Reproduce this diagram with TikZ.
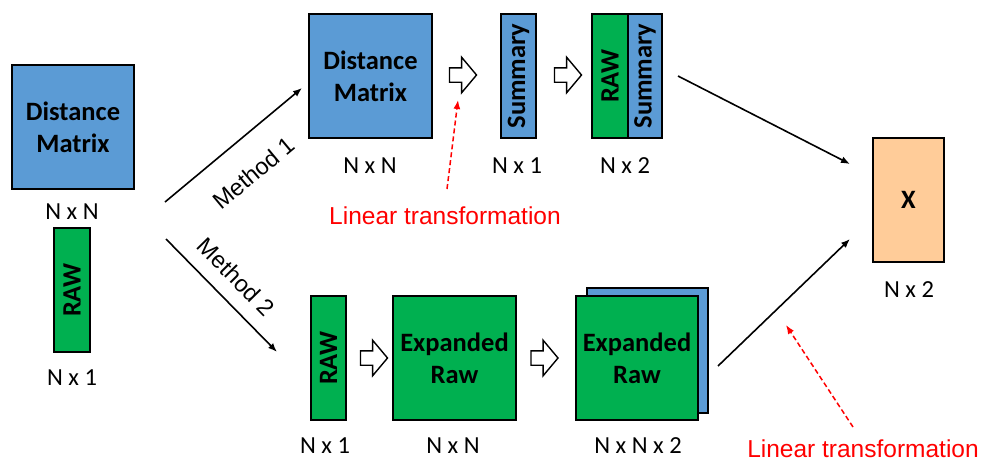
\documentclass[tikz,border=0pt]{standalone}
\usepackage{fontspec}
\setmainfont{Carlito}
\newfontfamily\arialfont{Liberation Sans}
\usetikzlibrary{shapes.arrows,arrows.meta}
\definecolor{mblue}{HTML}{5B9BD5}
\definecolor{mgreen}{HTML}{00B050}
\definecolor{mpeach}{HTML}{FFCC99}
\definecolor{mred}{HTML}{FF0000}
\tikzset{
  box/.style={draw=black, line width=1.4pt, inner sep=0pt, align=center,
    font=\fontsize{26.5}{32}\selectfont\bfseries},
  bluebox/.style={box, fill=mblue},
  greenbox/.style={box, fill=mgreen},
  dimlabel/.style={font=\fontsize{24.5}{28}\selectfont},
  methodlabel/.style={font=\arialfont\fontsize{23.5}{27}\selectfont},
  redlabel/.style={font=\arialfont\fontsize{24.5}{28}\selectfont, text=mred},
  flow/.style={line width=1.6pt, -{Latex[length=9pt,width=7pt]}},
  redflow/.style={line width=1.5pt, draw=mred, dash pattern=on 5pt off 3pt,
    -{Latex[length=9pt,width=7pt]}},
  blockarrow/.style={single arrow, draw=black, fill=white, line width=1.4pt,
    minimum height=27pt, minimum width=1pt, inner xsep=0pt, inner ysep=6.5pt,
    single arrow head extend=10.5pt, single arrow tip angle=100}
}
\begin{document}
\begin{tikzpicture}[x=1pt, y=-1pt]
\useasboundingbox (0,0) rectangle (986,464);

% inputs on the left
\node[bluebox, minimum width=122pt, minimum height=124pt] (dmL) at (73,127) {Distance\\Matrix};
\node[dimlabel] (dmLdim) at (72,212) {N x N};
\node[greenbox, rotate=90, minimum width=124pt, minimum height=36pt] (rawL) at (72,290) {RAW};
\node[dimlabel] (rawLdim) at (72,378) {N x 1};

% method 1 branch
\node[bluebox, minimum width=123pt, minimum height=124pt] (dmT) at (370.5,76) {Distance\\Matrix};
\node[dimlabel] (dmTdim) at (370,166) {N x N};
\node[blockarrow] (ba1) at (460,75) {};
\node[bluebox, rotate=90, minimum width=124pt, minimum height=35pt] (sumT) at (518.5,76) {Summary};
\node[dimlabel] (sumTdim) at (517,166) {N x 1};
\node[blockarrow] (ba2) at (565,75) {};
\node[greenbox, rotate=90, minimum width=124pt, minimum height=36pt] (rawT) at (610,76) {RAW};
\node[bluebox, rotate=90, minimum width=124pt, minimum height=34pt] (sumT2) at (645,76) {Summary};
\node[dimlabel] (catdim) at (625,166) {N x 2};

% method 2 branch
\node[greenbox, rotate=90, minimum width=124pt, minimum height=35pt] (rawB) at (328.5,358) {RAW};
\node[dimlabel] (rawBdim) at (325,446) {N x 1};
\node[blockarrow] (ba3) at (371,358) {};
\node[greenbox, minimum width=123pt, minimum height=124pt] (expB) at (454.5,358) {Expanded\\Raw};
\node[dimlabel] (expBdim) at (453,446) {N x N};
\node[blockarrow] (ba4) at (541.5,358) {};
\node[bluebox, minimum width=121pt, minimum height=125pt] (expBack) at (647.5,350.5) {};
\node[greenbox, minimum width=122pt, minimum height=124pt] (expFront) at (637,358) {Expanded\\Raw};
\node[dimlabel] (expFdim) at (638,446) {N x N x 2};

% result
\node[box, fill=mpeach, minimum width=71pt, minimum height=124pt] (X) at (908.5,200) {X};
\node[dimlabel] (Xdim) at (909,290) {N x 2};

% connector end points
\coordinate (m1s) at (165,202);
\coordinate (m1e) at (302,88);
\coordinate (m2s) at (166,239);
\coordinate (m2e) at (277,352);
\coordinate (t1s) at (678,76);
\coordinate (t1e) at (850,164);
\coordinate (b1s) at (718,366);
\coordinate (b1e) at (850,239);
\coordinate (l1s) at (447,189);
\coordinate (l1e) at (458,100);
\coordinate (l2s) at (853,427);
\coordinate (l2e) at (786,325);

\draw[flow] (m1s) -- (m1e);
\draw[flow] (m2s) -- (m2e);
\draw[flow] (t1s) -- (t1e);
\draw[flow] (b1s) -- (b1e);
\draw[redflow] (l1s) -- (l1e);
\draw[redflow] (l2s) -- (l2e);

\node[methodlabel, rotate=39.8] (m1lab) at (254,173) {Method 1};
\node[methodlabel, rotate=-45.5] (m2lab) at (236,277) {Method 2};
\node[redlabel] (lt1) at (445,216) {Linear transformation};
\node[redlabel] (lt2) at (863,449) {Linear transformation};
\end{tikzpicture}
\end{document}
